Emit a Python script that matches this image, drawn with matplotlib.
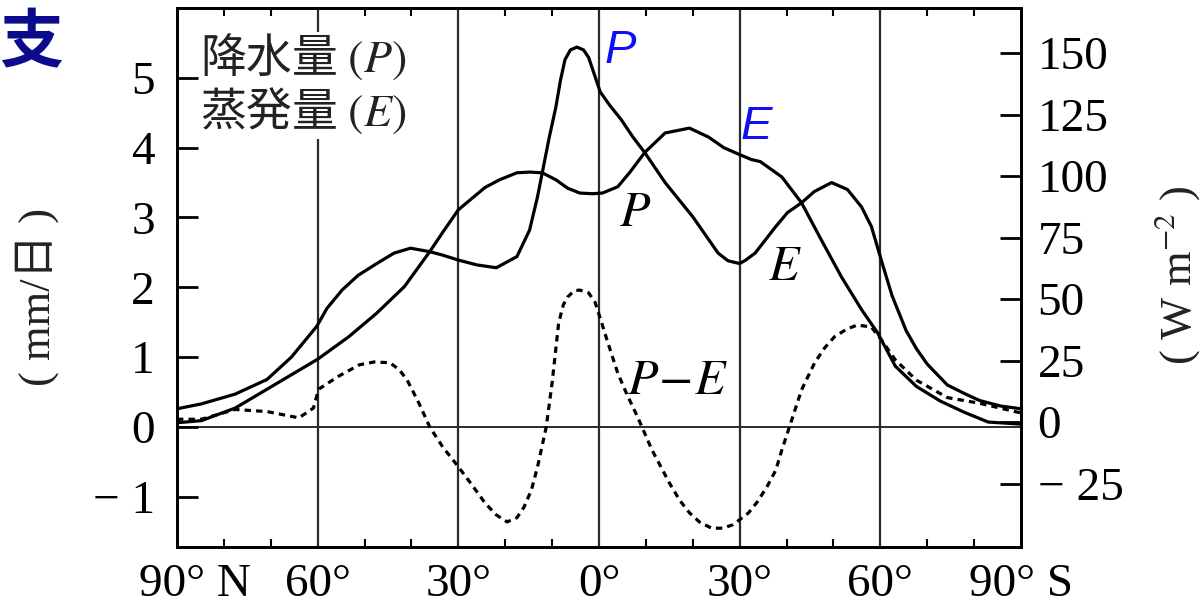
import numpy as np
import matplotlib.pyplot as plt
from matplotlib.transforms import ScaledTranslation

plt.rcParams['font.family'] = ['Liberation Serif', 'Noto Sans CJK JP', 'DejaVu Sans']
plt.rcParams['mathtext.fontset'] = 'stix'

# latitude in degrees, north positive / south negative; values in mm/day
lat_p = [90, 84.8, 77.6, 70.8, 65.6, 60.2, 58.0, 54.8, 51.4, 47.4, 43.7, 40.2, 36.1, 33.3,
         30, 26.0, 21.9, 17.5, 14.8, 13.1, 12.1, 10.6, 9.2, 8.2, 7.25, 6.1, 4.7, 3.3,
         2.2, 0.8, -0.25, -2.25, -4.75, -7.25, -9.75, -14.1, -20, -25.4, -27.5, -30,
         -31.3, -33.3, -37.7, -40.2, -43.2, -45.9, -49.6, -53, -56, -58.1, -60.2,
         -62.5, -65.5, -67.7, -70, -74.3, -77.9, -81.1, -85.6, -90]
p_mm = [0.26, 0.33, 0.47, 0.68, 1.00, 1.44, 1.70, 1.96, 2.17, 2.34, 2.49, 2.56, 2.51, 2.46,
        2.39, 2.32, 2.28, 2.44, 2.82, 3.30, 3.64, 4.15, 4.58, 4.97, 5.26, 5.40, 5.44, 5.40,
        5.29, 5.01, 4.80, 4.61, 4.40, 4.15, 3.93, 3.50, 3.01, 2.49, 2.38, 2.34,
        2.39, 2.49, 2.87, 3.07, 3.21, 3.37, 3.50, 3.40, 3.15, 2.87, 2.39,
        1.88, 1.38, 1.12, 0.90, 0.60, 0.48, 0.38, 0.30, 0.26]

lat_e = [90, 84.8, 77.6, 70.8, 60, 53.4, 47.4, 41.5, 36.1, 33.3, 30, 24.3, 21.2, 17.5,
         14.8, 12.1, 9.2, 6.7, 4.1, 1.4, -0.75, -4.0, -6.5, -9.75, -14.1, -19.3, -23.4,
         -26.6, -30, -32.5, -34.4, -39, -43.2, -47.4, -51.7, -56, -59.4, -63.2, -67.7,
         -72.8, -77.9, -83, -90]
e_mm = [0.06, 0.09, 0.27, 0.54, 0.97, 1.29, 1.63, 2.01, 2.51, 2.79, 3.11, 3.43, 3.54, 3.64,
        3.65, 3.64, 3.54, 3.42, 3.35, 3.34, 3.35, 3.44, 3.64, 3.93, 4.21, 4.28, 4.15,
        4.00, 3.90, 3.83, 3.80, 3.58, 3.21, 2.68, 2.15, 1.68, 1.35, 0.87, 0.58,
        0.37, 0.21, 0.07, 0.04]

lat_pe = [90, 84.8, 77.6, 70.8, 64, 60.9, 59.8, 55.7, 51.1, 48, 44.6, 42.6, 40.9, 38.4,
          36.1, 33.3, 30, 27.1, 24.3, 21.9, 19.6, 17.5, 16.0, 14.4, 13.1, 11.25, 10, 8.6,
          7.6, 6.7, 5.3, 4.1, 2.2, 0.8, -0.25, -1.5, -4, -6, -8.25, -11.3, -15, -17.2,
          -19.3, -21.4, -24, -26.4, -28.6, -31.9, -33.8, -35.8, -37.7, -39, -41.1, -43.2,
          -46, -48.1, -50.2, -52.8, -55.1, -58.1, -60.2, -63.2, -67.7, -74.3, -81.1, -90]
pe_mm = [0.11, 0.11, 0.25, 0.22, 0.13, 0.27, 0.54, 0.72, 0.89, 0.93, 0.92, 0.82, 0.67, 0.34,
         0.0, -0.29, -0.57, -0.83, -1.09, -1.26, -1.36, -1.30, -1.15, -0.90, -0.57, 0.0, 0.63, 1.49,
         1.75, 1.86, 1.95, 1.96, 1.92, 1.78, 1.56, 1.29, 0.77, 0.46, 0.14, -0.33, -0.80, -1.05,
         -1.23, -1.36, -1.45, -1.45, -1.40, -1.23, -1.07, -0.86, -0.62, -0.33, 0.10, 0.53,
         0.92, 1.13, 1.29, 1.40, 1.46, 1.43, 1.25, 0.96, 0.67, 0.42, 0.34, 0.20]

lat_ticks = [90, 60, 30, 0, -30, -60, -90]
lat_labels = ['90° N', '60°', '30°', '0°', '30°', '60°', '90° S']
lat_minor = [80, 70, 50, 40, 20, 10, -10, -20, -40, -50, -70, -80]
grid_lats = [60, 30, 0, -30, -60]
mm_ticks = [-1, 0, 1, 2, 3, 4, 5]
mm_labels = ['− 1', '0', '1', '2', '3', '4', '5']
w_ticks = [-25, 0, 25, 50, 75, 100, 125, 150]
w_labels = ['− 25', '0', '25', '50', '75', '100', '125', '150']

fig = plt.figure(figsize=(12.04, 6.11), dpi=100)
ax = fig.add_axes([0.147, 0.1047, 0.701, 0.8822])

for lat in grid_lats:
    ax.axvline(lat, color='#2a2a2a', lw=1.6, zorder=1)
ax.axhline(0, color='#2a2a2a', lw=1.4, zorder=1)

ax.plot(lat_e, e_mm, color='black', lw=2.3, zorder=3)
ax.plot(lat_p, p_mm, color='black', lw=2.3, zorder=3)
ax.plot(lat_pe, pe_mm, color='black', lw=2.3, dashes=(2, 1.6), zorder=3)

ax.set_xlim(90, -90)
ax.set_ylim(-1.72, 6.0)
ax.set_xticks(lat_ticks)
ax.set_xticklabels(lat_labels)
ax.set_xticks(lat_minor, minor=True)
ax.tick_params(axis='x', which='major', length=0, pad=12, labelsize=34)
ax.tick_params(axis='x', which='minor', direction='in', length=6, width=1.5,
               top=True, bottom=True)
ax.set_yticks(mm_ticks)
ax.set_yticklabels(mm_labels)
ax.tick_params(axis='y', direction='in', length=15, width=2, labelsize=34, pad=16)
for s in ax.spines.values():
    s.set_linewidth(2)

first = ax.get_xticklabels()[0]
first.set_transform(first.get_transform() + ScaledTranslation(0.18, 0, fig.dpi_scale_trans))

ax2 = ax.twinx()
ax2.set_ylim(-50.7, 168.3)
ax2.set_yticks(w_ticks)
ax2.set_yticklabels(w_labels)
ax2.tick_params(axis='y', direction='in', length=15, width=2, labelsize=34, pad=12)
for s in ax2.spines.values():
    s.set_linewidth(2)

# curve labels
ax.text(-7.8, 3.05, '$P$', fontsize=36, ha='center', va='center')
ax.text(-39.6, 2.28, '$E$', fontsize=36, ha='center', va='center')
ax.text(-16.8, 0.64, '$P\\!-\\!E$', fontsize=36, ha='center', va='center')
ax.text(-4.6, 5.39, 'P', fontsize=34, style='italic', color='#1010f2',
        family=['Liberation Sans'], ha='center', va='center', zorder=5)
ax.text(-33.6, 4.30, 'E', fontsize=34, style='italic', color='#1010f2',
        family=['Liberation Sans'], ha='center', va='center', zorder=5)

fig.text(200 / 1204, 1 - 33 / 611, '降水量 $(P)$\n蒸発量 $(E)$', fontsize=33,
         family=['Noto Sans CJK JP'], ha='left', va='top', linespacing=1.1,
         color='#222222',
         bbox=dict(facecolor='white', edgecolor='none', pad=1))

fig.text(31 / 1204, 1 - 44 / 611, '支', fontsize=46, weight='bold', color='#0b0b8c',
         family=['Noto Sans CJK JP'], ha='center', va='center')

fig.text(37 / 1204, 1 - 297 / 611, '( mm/日 )', fontsize=32, rotation=90,
         ha='center', va='center', color='#222222')
fig.text(1177 / 1204, 1 - 275 / 611, '( W m$^{-2}$ )', fontsize=32, rotation=90,
         ha='center', va='center', color='#222222')

fig.savefig('out.png', dpi=100)
